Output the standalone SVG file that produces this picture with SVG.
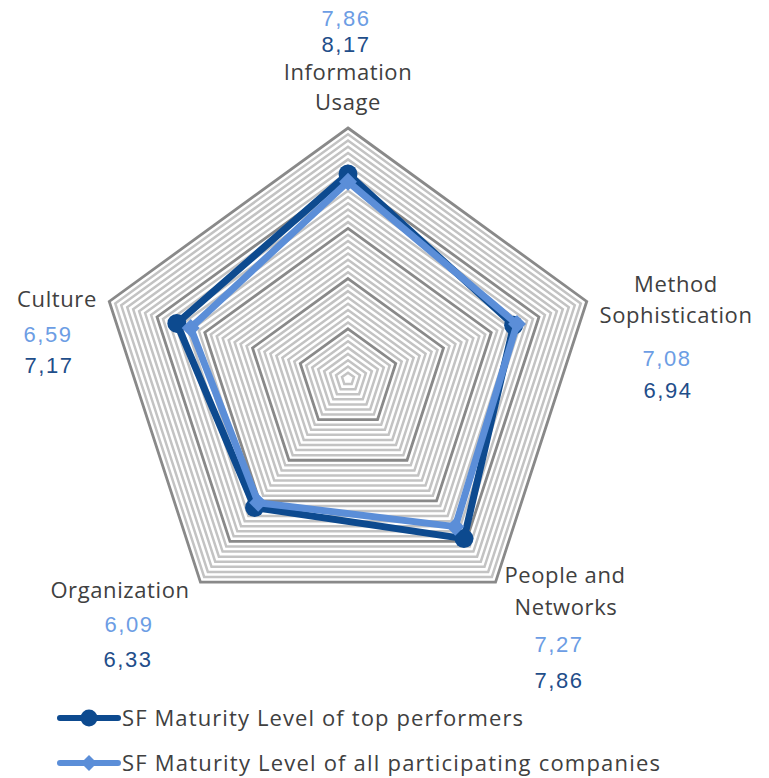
<svg xmlns="http://www.w3.org/2000/svg" width="769" height="778" viewBox="0 0 769 778">
<style>
.mn{fill:none;stroke:#c3c3c3;stroke-width:2.5;stroke-linejoin:miter}
.mj{fill:none;stroke:#898989;stroke-width:2.8;stroke-linejoin:miter}
text{font-family:"Open Sans","Noto Sans","Liberation Sans",sans-serif;font-size:22px;text-anchor:middle}
.cat{fill:#404040;letter-spacing:0.6px}
.vl{fill:#6c9de4;font-family:"Liberation Sans",Arial,sans-serif;letter-spacing:1.6px}
.vd{fill:#1f4e8a;font-family:"Liberation Sans",Arial,sans-serif;letter-spacing:1.6px}
.leg{fill:#404040;text-anchor:start}
.sd{fill:none;stroke:#0d4a8f;stroke-width:7;stroke-linejoin:round}
.sl{fill:none;stroke:#5b8ed8;stroke-width:7;stroke-linejoin:round}
</style>
<rect width="769" height="778" fill="#ffffff"/>
<g id="grid">
<polygon class="mn" points="348,372.73 353.97,377.06 351.69,384.08 344.31,384.08 342.03,377.06"/>
<polygon class="mn" points="348,366.45 359.94,375.12 355.38,389.15 340.62,389.15 336.06,375.12"/>
<polygon class="mn" points="348,360.18 365.90,373.18 359.07,394.23 336.93,394.23 330.10,373.18"/>
<polygon class="mn" points="348,353.9 371.87,371.24 362.75,399.31 333.25,399.31 324.13,371.24"/>
<polygon class="mn" points="348,347.63 377.84,369.30 366.44,404.38 329.56,404.38 318.16,369.30"/>
<polygon class="mn" points="348,341.35 383.81,367.37 370.13,409.46 325.87,409.46 312.19,367.37"/>
<polygon class="mn" points="348,335.08 389.77,365.43 373.82,414.54 322.18,414.54 306.23,365.43"/>
<polygon class="mn" points="348,322.53 401.71,361.55 381.20,424.69 314.80,424.69 294.29,361.55"/>
<polygon class="mn" points="348,316.25 407.68,359.61 384.88,429.77 311.12,429.77 288.32,359.61"/>
<polygon class="mn" points="348,309.98 413.65,357.67 388.57,434.84 307.43,434.84 282.35,357.67"/>
<polygon class="mn" points="348,303.7 419.61,355.73 392.26,439.92 303.74,439.92 276.39,355.73"/>
<polygon class="mn" points="348,297.43 425.58,353.79 395.95,445.00 300.05,445.00 270.42,353.79"/>
<polygon class="mn" points="348,291.15 431.55,351.85 399.64,450.07 296.36,450.07 264.45,351.85"/>
<polygon class="mn" points="348,284.88 437.52,349.91 403.33,455.15 292.67,455.15 258.48,349.91"/>
<polygon class="mn" points="348,272.33 449.45,346.04 410.70,465.30 285.30,465.30 246.55,346.04"/>
<polygon class="mn" points="348,266.05 455.42,344.10 414.39,470.38 281.61,470.38 240.58,344.10"/>
<polygon class="mn" points="348,259.78 461.39,342.16 418.08,475.46 277.92,475.46 234.61,342.16"/>
<polygon class="mn" points="348,253.5 467.36,340.22 421.77,480.53 274.23,480.53 228.64,340.22"/>
<polygon class="mn" points="348,247.23 473.33,338.28 425.46,485.61 270.54,485.61 222.67,338.28"/>
<polygon class="mn" points="348,240.95 479.29,336.34 429.15,490.69 266.85,490.69 216.71,336.34"/>
<polygon class="mn" points="348,234.68 485.26,334.40 432.83,495.76 263.17,495.76 210.74,334.40"/>
<polygon class="mn" points="348,222.13 497.20,330.52 440.21,505.92 255.79,505.92 198.80,330.52"/>
<polygon class="mn" points="348,215.85 503.17,328.58 443.90,510.99 252.10,510.99 192.83,328.58"/>
<polygon class="mn" points="348,209.58 509.13,326.64 447.59,516.07 248.41,516.07 186.87,326.64"/>
<polygon class="mn" points="348,203.3 515.10,324.71 451.28,521.14 244.72,521.14 180.90,324.71"/>
<polygon class="mn" points="348,197.03 521.07,322.77 454.96,526.22 241.04,526.22 174.93,322.77"/>
<polygon class="mn" points="348,190.75 527.04,320.83 458.65,531.30 237.35,531.30 168.96,320.83"/>
<polygon class="mn" points="348,184.48 533.00,318.89 462.34,536.37 233.66,536.37 163.00,318.89"/>
<polygon class="mn" points="348,171.93 544.94,315.01 469.72,546.53 226.28,546.53 151.06,315.01"/>
<polygon class="mn" points="348,165.65 550.91,313.07 473.41,551.60 222.59,551.60 145.09,313.07"/>
<polygon class="mn" points="348,159.38 556.88,311.13 477.09,556.68 218.91,556.68 139.12,311.13"/>
<polygon class="mn" points="348,153.1 562.84,309.19 480.78,561.76 215.22,561.76 133.16,309.19"/>
<polygon class="mn" points="348,146.83 568.81,307.25 484.47,566.83 211.53,566.83 127.19,307.25"/>
<polygon class="mn" points="348,140.55 574.78,305.31 488.16,571.91 207.84,571.91 121.22,305.31"/>
<polygon class="mn" points="348,134.28 580.75,303.37 491.85,576.99 204.15,576.99 115.25,303.37"/>
<polygon class="mj" points="348,328.8 395.74,363.49 377.51,419.61 318.49,419.61 300.26,363.49"/>
<polygon class="mj" points="348,278.6 443.49,347.97 407.01,460.23 288.99,460.23 252.51,347.97"/>
<polygon class="mj" points="348,228.4 491.23,332.46 436.52,500.84 259.48,500.84 204.77,332.46"/>
<polygon class="mj" points="348,178.2 538.97,316.95 466.03,541.45 229.97,541.45 157.03,316.95"/>
<polygon class="mj" points="348,128 586.72,301.44 495.54,582.06 200.46,582.06 109.28,301.44"/>
</g>
<g id="connectors">
<g id="series-top">
<polygon class="sd" points="348,173.93 513.66,325.17 463.96,538.61 254.61,507.54 176.84,323.39"/>
<g fill="#0d4a8f">
<circle cx="348" cy="173.93" r="9.5"/>
<circle cx="513.66" cy="325.17" r="9.5"/>
<circle cx="463.96" cy="538.61" r="9.5"/>
<circle cx="254.61" cy="507.54" r="9.5"/>
<circle cx="176.84" cy="323.39" r="9.5"/>
</g>
</g>
<g id="series-all">
<polygon class="sl" points="348,181.71 517.01,324.08 455.26,526.63 258.15,502.67 190.69,327.89"/>
<g fill="#5b8ed8">
<polygon points="348,172.71 357,181.71 348,190.71 339,181.71"/>
<polygon points="517.01,315.08 526.01,324.08 517.01,333.08 508.01,324.08"/>
<polygon points="455.26,517.63 464.26,526.63 455.26,535.63 446.26,526.63"/>
<polygon points="258.15,493.67 267.15,502.67 258.15,511.67 249.15,502.67"/>
<polygon points="190.69,318.89 199.69,327.89 190.69,336.89 181.69,327.89"/>
</g>
</g>
</g>
<g id="node-information-usage">
<text class="vl" x="346" y="26">7,86</text>
<text class="vd" x="346" y="52">8,17</text>
<text class="cat" x="348" y="80">Information</text>
<text class="cat" x="348" y="110">Usage</text>
</g>
<g id="node-method-sophistication">
<text class="cat" x="676" y="292">Method</text>
<text class="cat" x="676" y="323">Sophistication</text>
<text class="vl" x="667" y="366">7,08</text>
<text class="vd" x="668" y="398">6,94</text>
</g>
<g id="node-people-networks">
<text class="cat" x="565" y="583">People and</text>
<text class="cat" x="566" y="615">Networks</text>
<text class="vl" x="559" y="652">7,27</text>
<text class="vd" x="559" y="688">7,86</text>
</g>
<g id="node-organization">
<text class="cat" x="120" y="598">Organization</text>
<text class="vl" x="129" y="632">6,09</text>
<text class="vd" x="128" y="667">6,33</text>
</g>
<g id="node-culture">
<text class="cat" x="57" y="307">Culture</text>
<text class="vl" x="48" y="342">6,59</text>
<text class="vd" x="49" y="373">7,17</text>
</g>
<g id="legend">
<line x1="60" y1="718" x2="118" y2="718" stroke="#0d4a8f" stroke-width="6" stroke-linecap="round"/>
<circle cx="89" cy="718" r="8.5" fill="#0d4a8f"/>
<text class="leg" x="122" y="726" textLength="401" lengthAdjust="spacing">SF Maturity Level of top performers</text>
<line x1="60" y1="763" x2="118" y2="763" stroke="#5b8ed8" stroke-width="6" stroke-linecap="round"/>
<polygon points="89,755 97,763 89,771 81,763" fill="#5b8ed8"/>
<text class="leg" x="122" y="771" textLength="538" lengthAdjust="spacing">SF Maturity Level of all participating companies</text>
</g>
</svg>
